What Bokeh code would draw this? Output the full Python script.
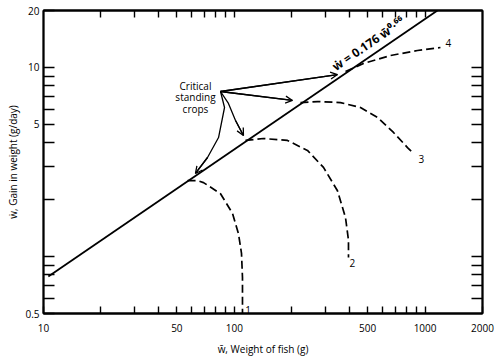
from bokeh.plotting import figure
from bokeh.models import Range1d, FixedTicker, LogAxis, Arrow, OpenHead
from bokeh.core.properties import value
from bokeh.embed import file_html
from bokeh.resources import INLINE

# ---- data ----
x_major = [10, 50, 100, 500, 1000, 2000]
x_minor = [20, 30, 40, 60, 70, 80, 90, 200, 300, 400, 600, 700, 800, 900]
y_major = [0.5, 5, 10, 20]
y_minor = [0.6, 0.7, 0.8, 0.9, 1, 2, 3, 4, 6, 7, 8, 9]
x_frame_ticks = [20, 30, 40, 50, 60, 70, 80, 90, 100, 200, 300, 400, 500, 600, 700, 800, 900, 1000]
y_frame_ticks = [0.6, 0.7, 0.8, 0.9, 1, 2, 3, 4, 5, 6, 7, 8, 9, 10]

line_x = [10.6, 1161]
line_y = [0.784, 20]

curve1_x = [56.9, 64.2, 69.0, 84.7, 97.9, 105.2, 109.1, 110.4, 110.4]
curve1_y = [2.52, 2.52, 2.46, 2.15, 1.69, 1.32, 1.04, 0.775, 0.5]
curve2_x = [114.5, 142.2, 190.0, 241.9, 293.5, 347.4, 382.7, 396.8, 396.8]
curve2_y = [4.11, 4.21, 4.11, 3.64, 2.96, 2.23, 1.61, 1.22, 0.99]
curve3_x = [222.3, 272.9, 360.3, 458.6, 563.0, 683.1, 808.8, 869.6]
curve3_y = [6.52, 6.60, 6.52, 6.14, 5.44, 4.53, 3.77, 3.51]
curve4_x = [382.7, 475.4, 658.8, 912.5, 1204]
curve4_y = [9.52, 10.49, 11.56, 12.29, 12.75]

curve_labels = ["1", "2", "3", "4"]
curve_label_x = [114, 401.7, 923.5, 1279]
curve_label_y = [0.5, 0.886, 3.14, 12.9]

arrowA_x = [84.7, 347.4]
arrowA_y = [7.46, 9.17]
arrowB_x = [84.7, 201.8]
arrowB_y = [7.46, 6.69]
arrowC_x = [84.7, 93.2, 101.5, 111.7]
arrowC_y = [7.46, 6.45, 5.24, 4.37]
arrowD_x = [84.7, 88.9, 82.7, 72.4, 62.6]
arrowD_y = [7.46, 6.14, 4.26, 3.34, 2.75]

note_lines = ["Critical", "standing", "crops"]
note_x = [62.6, 62.6, 62.6]
note_y = [8.02, 6.935, 6.06]

eq_text = ["\u1e87 = 0.176 w\u0304\u2070\u00b7\u2076\u2076"]
eq_x = [331.1]
eq_y = [9.99]
eq_angle = 0.60

FONT = "Open Sans"

p = figure(x_axis_type="log", y_axis_type="log",
           x_range=Range1d(10, 2000), y_range=Range1d(0.5, 20),
           frame_width=439, frame_height=303,
           min_border_left=43, min_border_right=16, min_border_top=10, min_border_bottom=40,
           output_backend="svg", toolbar_location=None,
           x_axis_label="w\u0304, Weight of fish (g)",
           y_axis_label="\u1e87, Gain in weight (g/day)")
p.grid.visible = False
p.outline_line_color = "black"
p.outline_line_width = 1.8
p.background_fill_color = "white"
p.border_fill_color = "white"


def style_axis(ax, tick_len):
    ax.axis_line_color = "black"
    ax.axis_line_width = 1.8
    ax.major_tick_in = tick_len
    ax.major_tick_out = 0
    ax.minor_tick_in = tick_len
    ax.minor_tick_out = 0
    ax.major_tick_line_color = "black"
    ax.minor_tick_line_color = "black"
    ax.major_tick_line_width = 1.4
    ax.minor_tick_line_width = 1.4
    ax.major_label_text_font = FONT
    ax.major_label_text_font_size = "10px"
    ax.major_label_text_color = "black"
    ax.axis_label_text_font = FONT
    ax.axis_label_text_font_size = "10px"
    ax.axis_label_text_font_style = "normal"
    ax.axis_label_text_color = "black"


xax = p.xaxis[0]
xax.ticker = FixedTicker(ticks=x_major, minor_ticks=x_minor)
style_axis(xax, 7)
xax.major_label_standoff = 10
xax.axis_label_standoff = 7

yax = p.yaxis[0]
yax.ticker = FixedTicker(ticks=y_major, minor_ticks=y_minor)
style_axis(yax, 11)
yax.major_label_standoff = 4
yax.axis_label_standoff = 2

top = LogAxis(ticker=FixedTicker(ticks=[], minor_ticks=x_frame_ticks))
style_axis(top, 7)
p.add_layout(top, "above")
right = LogAxis(ticker=FixedTicker(ticks=[], minor_ticks=y_frame_ticks))
style_axis(right, 11)
p.add_layout(right, "right")

# main allometric line
p.line(line_x, line_y, line_color="black", line_width=1.8)

# dashed curves
for cx, cy in [(curve1_x, curve1_y), (curve2_x, curve2_y), (curve3_x, curve3_y), (curve4_x, curve4_y)]:
    p.line(cx, cy, line_color="black", line_width=1.7, line_dash="8 4")

# arrows
for ax_, ay_ in [(arrowA_x, arrowA_y), (arrowB_x, arrowB_y), (arrowC_x, arrowC_y), (arrowD_x, arrowD_y)]:
    p.line(ax_, ay_, line_color="black", line_width=1.3)
    p.add_layout(Arrow(end=OpenHead(size=7, line_width=1.3, line_color="black"),
                       x_start=ax_[-2], y_start=ay_[-2], x_end=ax_[-1], y_end=ay_[-1],
                       line_width=1.3, line_color="black"))

p.text(x=note_x, y=note_y, text=note_lines, text_font=value(FONT), text_font_size="10px",
       text_align="center", text_baseline="middle", text_color="black")
p.text(x=curve_label_x, y=curve_label_y, text=curve_labels, text_font=value(FONT),
       text_font_size="10px", text_align="left", text_baseline="bottom", text_color="black")
p.text(x=eq_x, y=eq_y, text=eq_text, text_font=value(FONT), text_font_size="12px",
       text_font_style="bold", text_align="left", text_baseline="alphabetic", angle=eq_angle,
       text_color="black")

open("out.html", "w").write(file_html(p, INLINE))
